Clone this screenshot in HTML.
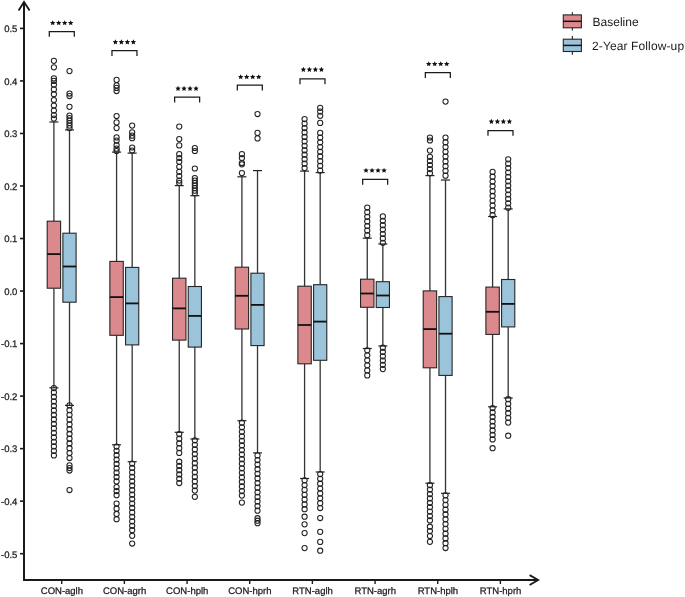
<!DOCTYPE html>
<html><head><meta charset="utf-8"><style>
html,body{margin:0;padding:0;background:#fff;width:685px;height:597px;overflow:hidden;position:relative}
svg text{font-family:"Liberation Sans",sans-serif;fill:#1a1a1a;text-rendering:geometricPrecision}
.ax{font-size:9.5px;stroke:#1a1a1a;stroke-width:0.25px}
.lg{font-size:12px}
.st{font-size:14px;font-weight:bold}
</style></head><body>
<svg width="685" height="597" viewBox="0 0 685 597" style="position:absolute;left:0;top:0;will-change:transform">
<rect width="685" height="597" fill="#ffffff"/>
<line x1="20" y1="28.4" x2="24" y2="28.4" stroke="#1a1a1a" stroke-width="1.6"/>
<text x="17.4" y="32.2" text-anchor="end" class="ax">0.5</text>
<line x1="20" y1="80.93" x2="24" y2="80.93" stroke="#1a1a1a" stroke-width="1.6"/>
<text x="17.4" y="84.73" text-anchor="end" class="ax">0.4</text>
<line x1="20" y1="133.46" x2="24" y2="133.46" stroke="#1a1a1a" stroke-width="1.6"/>
<text x="17.4" y="137.26" text-anchor="end" class="ax">0.3</text>
<line x1="20" y1="185.99" x2="24" y2="185.99" stroke="#1a1a1a" stroke-width="1.6"/>
<text x="17.4" y="189.79" text-anchor="end" class="ax">0.2</text>
<line x1="20" y1="238.52" x2="24" y2="238.52" stroke="#1a1a1a" stroke-width="1.6"/>
<text x="17.4" y="242.32" text-anchor="end" class="ax">0.1</text>
<line x1="20" y1="291.05" x2="24" y2="291.05" stroke="#1a1a1a" stroke-width="1.6"/>
<text x="17.4" y="294.85" text-anchor="end" class="ax">0.0</text>
<line x1="20" y1="343.58" x2="24" y2="343.58" stroke="#1a1a1a" stroke-width="1.6"/>
<text x="17.4" y="347.38" text-anchor="end" class="ax">-0.1</text>
<line x1="20" y1="396.11" x2="24" y2="396.11" stroke="#1a1a1a" stroke-width="1.6"/>
<text x="17.4" y="399.91" text-anchor="end" class="ax">-0.2</text>
<line x1="20" y1="448.64" x2="24" y2="448.64" stroke="#1a1a1a" stroke-width="1.6"/>
<text x="17.4" y="452.44" text-anchor="end" class="ax">-0.3</text>
<line x1="20" y1="501.17" x2="24" y2="501.17" stroke="#1a1a1a" stroke-width="1.6"/>
<text x="17.4" y="504.97" text-anchor="end" class="ax">-0.4</text>
<line x1="20" y1="553.7" x2="24" y2="553.7" stroke="#1a1a1a" stroke-width="1.6"/>
<text x="17.4" y="557.5" text-anchor="end" class="ax">-0.5</text>
<line x1="61.7" y1="580" x2="61.7" y2="584" stroke="#1a1a1a" stroke-width="1.4"/>
<text x="61.9" y="593.6" text-anchor="middle" class="ax">CON-aglh</text>
<line x1="124.37" y1="580" x2="124.37" y2="584" stroke="#1a1a1a" stroke-width="1.4"/>
<text x="124.57" y="593.6" text-anchor="middle" class="ax">CON-agrh</text>
<line x1="187.04" y1="580" x2="187.04" y2="584" stroke="#1a1a1a" stroke-width="1.4"/>
<text x="187.24" y="593.6" text-anchor="middle" class="ax">CON-hplh</text>
<line x1="249.71" y1="580" x2="249.71" y2="584" stroke="#1a1a1a" stroke-width="1.4"/>
<text x="249.91" y="593.6" text-anchor="middle" class="ax">CON-hprh</text>
<line x1="312.38" y1="580" x2="312.38" y2="584" stroke="#1a1a1a" stroke-width="1.4"/>
<text x="312.58" y="593.6" text-anchor="middle" class="ax">RTN-aglh</text>
<line x1="375.05" y1="580" x2="375.05" y2="584" stroke="#1a1a1a" stroke-width="1.4"/>
<text x="375.25" y="593.6" text-anchor="middle" class="ax">RTN-agrh</text>
<line x1="437.72" y1="580" x2="437.72" y2="584" stroke="#1a1a1a" stroke-width="1.4"/>
<text x="437.92" y="593.6" text-anchor="middle" class="ax">RTN-hplh</text>
<line x1="500.39" y1="580" x2="500.39" y2="584" stroke="#1a1a1a" stroke-width="1.4"/>
<text x="500.59" y="593.6" text-anchor="middle" class="ax">RTN-hprh</text>
<line x1="53.9" y1="122" x2="53.9" y2="221.2" stroke="#333" stroke-width="1.3"/>
<line x1="53.9" y1="288.2" x2="53.9" y2="387.8" stroke="#333" stroke-width="1.3"/>
<line x1="49.4" y1="122" x2="58.4" y2="122" stroke="#222" stroke-width="1.2"/>
<line x1="49.4" y1="387.8" x2="58.4" y2="387.8" stroke="#222" stroke-width="1.2"/>
<rect x="47.2" y="221.2" width="13.4" height="67" fill="#DC898E" stroke="#262626" stroke-width="1.1"/>
<line x1="47.2" y1="254.1" x2="60.6" y2="254.1" stroke="#111" stroke-width="1.8"/>
<circle cx="53.9" cy="60.8" r="2.6" fill="none" stroke="#222" stroke-width="1.05"/>
<circle cx="53.9" cy="67.3" r="2.6" fill="none" stroke="#222" stroke-width="1.05"/>
<circle cx="53.9" cy="78.4" r="2.6" fill="none" stroke="#222" stroke-width="1.05"/>
<circle cx="53.9" cy="80.9" r="2.6" fill="none" stroke="#222" stroke-width="1.05"/>
<circle cx="53.9" cy="84.7" r="2.6" fill="none" stroke="#222" stroke-width="1.05"/>
<circle cx="53.9" cy="89.4" r="2.6" fill="none" stroke="#222" stroke-width="1.05"/>
<circle cx="53.9" cy="94.2" r="2.6" fill="none" stroke="#222" stroke-width="1.05"/>
<circle cx="53.9" cy="100" r="2.6" fill="none" stroke="#222" stroke-width="1.05"/>
<circle cx="53.9" cy="105.5" r="2.6" fill="none" stroke="#222" stroke-width="1.05"/>
<circle cx="53.9" cy="110.6" r="2.6" fill="none" stroke="#222" stroke-width="1.05"/>
<circle cx="53.9" cy="115.1" r="2.6" fill="none" stroke="#222" stroke-width="1.05"/>
<circle cx="53.9" cy="118.6" r="2.6" fill="none" stroke="#222" stroke-width="1.05"/>
<circle cx="53.9" cy="388" r="2.6" fill="none" stroke="#222" stroke-width="1.05"/>
<circle cx="53.9" cy="392.49" r="2.6" fill="none" stroke="#222" stroke-width="1.05"/>
<circle cx="53.9" cy="396.99" r="2.6" fill="none" stroke="#222" stroke-width="1.05"/>
<circle cx="53.9" cy="401.48" r="2.6" fill="none" stroke="#222" stroke-width="1.05"/>
<circle cx="53.9" cy="405.97" r="2.6" fill="none" stroke="#222" stroke-width="1.05"/>
<circle cx="53.9" cy="410.47" r="2.6" fill="none" stroke="#222" stroke-width="1.05"/>
<circle cx="53.9" cy="414.96" r="2.6" fill="none" stroke="#222" stroke-width="1.05"/>
<circle cx="53.9" cy="419.45" r="2.6" fill="none" stroke="#222" stroke-width="1.05"/>
<circle cx="53.9" cy="423.95" r="2.6" fill="none" stroke="#222" stroke-width="1.05"/>
<circle cx="53.9" cy="428.44" r="2.6" fill="none" stroke="#222" stroke-width="1.05"/>
<circle cx="53.9" cy="432.93" r="2.6" fill="none" stroke="#222" stroke-width="1.05"/>
<circle cx="53.9" cy="437.43" r="2.6" fill="none" stroke="#222" stroke-width="1.05"/>
<circle cx="53.9" cy="441.92" r="2.6" fill="none" stroke="#222" stroke-width="1.05"/>
<circle cx="53.9" cy="446.41" r="2.6" fill="none" stroke="#222" stroke-width="1.05"/>
<circle cx="53.9" cy="450.91" r="2.6" fill="none" stroke="#222" stroke-width="1.05"/>
<circle cx="53.9" cy="455.4" r="2.6" fill="none" stroke="#222" stroke-width="1.05"/>
<line x1="69.5" y1="129.9" x2="69.5" y2="233.2" stroke="#333" stroke-width="1.3"/>
<line x1="69.5" y1="302.2" x2="69.5" y2="405.4" stroke="#333" stroke-width="1.3"/>
<line x1="65" y1="129.9" x2="74" y2="129.9" stroke="#222" stroke-width="1.2"/>
<line x1="65" y1="405.4" x2="74" y2="405.4" stroke="#222" stroke-width="1.2"/>
<rect x="62.9" y="233.2" width="13.2" height="69" fill="#9BC3DA" stroke="#262626" stroke-width="1.1"/>
<line x1="62.9" y1="266.5" x2="76.1" y2="266.5" stroke="#111" stroke-width="1.8"/>
<circle cx="69.5" cy="71.1" r="2.6" fill="none" stroke="#222" stroke-width="1.05"/>
<circle cx="69.5" cy="93.5" r="2.6" fill="none" stroke="#222" stroke-width="1.05"/>
<circle cx="69.5" cy="96" r="2.6" fill="none" stroke="#222" stroke-width="1.05"/>
<circle cx="69.5" cy="106.8" r="2.6" fill="none" stroke="#222" stroke-width="1.05"/>
<circle cx="69.5" cy="115.6" r="2.6" fill="none" stroke="#222" stroke-width="1.05"/>
<circle cx="69.5" cy="118.1" r="2.6" fill="none" stroke="#222" stroke-width="1.05"/>
<circle cx="69.5" cy="120.6" r="2.6" fill="none" stroke="#222" stroke-width="1.05"/>
<circle cx="69.5" cy="123.1" r="2.6" fill="none" stroke="#222" stroke-width="1.05"/>
<circle cx="69.5" cy="125.6" r="2.6" fill="none" stroke="#222" stroke-width="1.05"/>
<circle cx="69.5" cy="128.1" r="2.6" fill="none" stroke="#222" stroke-width="1.05"/>
<circle cx="69.5" cy="405.4" r="2.6" fill="none" stroke="#222" stroke-width="1.05"/>
<circle cx="69.5" cy="410.16" r="2.6" fill="none" stroke="#222" stroke-width="1.05"/>
<circle cx="69.5" cy="414.92" r="2.6" fill="none" stroke="#222" stroke-width="1.05"/>
<circle cx="69.5" cy="419.68" r="2.6" fill="none" stroke="#222" stroke-width="1.05"/>
<circle cx="69.5" cy="424.44" r="2.6" fill="none" stroke="#222" stroke-width="1.05"/>
<circle cx="69.5" cy="429.2" r="2.6" fill="none" stroke="#222" stroke-width="1.05"/>
<circle cx="69.5" cy="433.96" r="2.6" fill="none" stroke="#222" stroke-width="1.05"/>
<circle cx="69.5" cy="438.72" r="2.6" fill="none" stroke="#222" stroke-width="1.05"/>
<circle cx="69.5" cy="443.48" r="2.6" fill="none" stroke="#222" stroke-width="1.05"/>
<circle cx="69.5" cy="448.24" r="2.6" fill="none" stroke="#222" stroke-width="1.05"/>
<circle cx="69.5" cy="453" r="2.6" fill="none" stroke="#222" stroke-width="1.05"/>
<circle cx="69.5" cy="458" r="2.6" fill="none" stroke="#222" stroke-width="1.05"/>
<circle cx="69.5" cy="465.4" r="2.6" fill="none" stroke="#222" stroke-width="1.05"/>
<circle cx="69.5" cy="468" r="2.6" fill="none" stroke="#222" stroke-width="1.05"/>
<circle cx="69.5" cy="470.5" r="2.6" fill="none" stroke="#222" stroke-width="1.05"/>
<circle cx="69.5" cy="490" r="2.6" fill="none" stroke="#222" stroke-width="1.05"/>
<path d="M49.3 36.8V31.5H74.3V36.8" fill="none" stroke="#1a1a1a" stroke-width="1.25"/>
<polygon points="52.70,20.15 53.49,21.91 55.41,22.12 53.98,23.42 54.38,25.31 52.70,24.35 51.02,25.31 51.42,23.42 49.99,22.12 51.91,21.91" fill="#111"/>
<polygon points="58.70,20.15 59.49,21.91 61.41,22.12 59.98,23.42 60.38,25.31 58.70,24.35 57.02,25.31 57.42,23.42 55.99,22.12 57.91,21.91" fill="#111"/>
<polygon points="64.70,20.15 65.49,21.91 67.41,22.12 65.98,23.42 66.38,25.31 64.70,24.35 63.02,25.31 63.42,23.42 61.99,22.12 63.91,21.91" fill="#111"/>
<polygon points="70.70,20.15 71.49,21.91 73.41,22.12 71.98,23.42 72.38,25.31 70.70,24.35 69.02,25.31 69.42,23.42 67.99,22.12 69.91,21.91" fill="#111"/>
<line x1="116.57" y1="152.1" x2="116.57" y2="261.4" stroke="#333" stroke-width="1.3"/>
<line x1="116.57" y1="335.3" x2="116.57" y2="444.8" stroke="#333" stroke-width="1.3"/>
<line x1="112.07" y1="152.1" x2="121.07" y2="152.1" stroke="#222" stroke-width="1.2"/>
<line x1="112.07" y1="444.8" x2="121.07" y2="444.8" stroke="#222" stroke-width="1.2"/>
<rect x="109.87" y="261.4" width="13.4" height="73.9" fill="#DC898E" stroke="#262626" stroke-width="1.1"/>
<line x1="109.87" y1="297.1" x2="123.27" y2="297.1" stroke="#111" stroke-width="1.8"/>
<circle cx="116.57" cy="79.9" r="2.6" fill="none" stroke="#222" stroke-width="1.05"/>
<circle cx="116.57" cy="85.4" r="2.6" fill="none" stroke="#222" stroke-width="1.05"/>
<circle cx="116.57" cy="87.9" r="2.6" fill="none" stroke="#222" stroke-width="1.05"/>
<circle cx="116.57" cy="91" r="2.6" fill="none" stroke="#222" stroke-width="1.05"/>
<circle cx="116.57" cy="116" r="2.6" fill="none" stroke="#222" stroke-width="1.05"/>
<circle cx="116.57" cy="122.4" r="2.6" fill="none" stroke="#222" stroke-width="1.05"/>
<circle cx="116.57" cy="128.1" r="2.6" fill="none" stroke="#222" stroke-width="1.05"/>
<circle cx="116.57" cy="137.4" r="2.6" fill="none" stroke="#222" stroke-width="1.05"/>
<circle cx="116.57" cy="140.7" r="2.6" fill="none" stroke="#222" stroke-width="1.05"/>
<circle cx="116.57" cy="145.2" r="2.6" fill="none" stroke="#222" stroke-width="1.05"/>
<circle cx="116.57" cy="148.7" r="2.6" fill="none" stroke="#222" stroke-width="1.05"/>
<circle cx="116.57" cy="151" r="2.6" fill="none" stroke="#222" stroke-width="1.05"/>
<circle cx="116.57" cy="446.5" r="2.6" fill="none" stroke="#222" stroke-width="1.05"/>
<circle cx="116.57" cy="450.86" r="2.6" fill="none" stroke="#222" stroke-width="1.05"/>
<circle cx="116.57" cy="455.23" r="2.6" fill="none" stroke="#222" stroke-width="1.05"/>
<circle cx="116.57" cy="459.59" r="2.6" fill="none" stroke="#222" stroke-width="1.05"/>
<circle cx="116.57" cy="463.95" r="2.6" fill="none" stroke="#222" stroke-width="1.05"/>
<circle cx="116.57" cy="468.31" r="2.6" fill="none" stroke="#222" stroke-width="1.05"/>
<circle cx="116.57" cy="472.67" r="2.6" fill="none" stroke="#222" stroke-width="1.05"/>
<circle cx="116.57" cy="477.04" r="2.6" fill="none" stroke="#222" stroke-width="1.05"/>
<circle cx="116.57" cy="481.4" r="2.6" fill="none" stroke="#222" stroke-width="1.05"/>
<circle cx="116.57" cy="487" r="2.6" fill="none" stroke="#222" stroke-width="1.05"/>
<circle cx="116.57" cy="491" r="2.6" fill="none" stroke="#222" stroke-width="1.05"/>
<circle cx="116.57" cy="495.2" r="2.6" fill="none" stroke="#222" stroke-width="1.05"/>
<circle cx="116.57" cy="503.5" r="2.6" fill="none" stroke="#222" stroke-width="1.05"/>
<circle cx="116.57" cy="508.73" r="2.6" fill="none" stroke="#222" stroke-width="1.05"/>
<circle cx="116.57" cy="513.97" r="2.6" fill="none" stroke="#222" stroke-width="1.05"/>
<circle cx="116.57" cy="519.2" r="2.6" fill="none" stroke="#222" stroke-width="1.05"/>
<line x1="132.17" y1="153.1" x2="132.17" y2="267.4" stroke="#333" stroke-width="1.3"/>
<line x1="132.17" y1="344.9" x2="132.17" y2="461.7" stroke="#333" stroke-width="1.3"/>
<line x1="127.67" y1="153.1" x2="136.67" y2="153.1" stroke="#222" stroke-width="1.2"/>
<line x1="127.67" y1="461.7" x2="136.67" y2="461.7" stroke="#222" stroke-width="1.2"/>
<rect x="125.57" y="267.4" width="13.2" height="77.5" fill="#9BC3DA" stroke="#262626" stroke-width="1.1"/>
<line x1="125.57" y1="303.4" x2="138.77" y2="303.4" stroke="#111" stroke-width="1.8"/>
<circle cx="132.17" cy="125.6" r="2.6" fill="none" stroke="#222" stroke-width="1.05"/>
<circle cx="132.17" cy="132.4" r="2.6" fill="none" stroke="#222" stroke-width="1.05"/>
<circle cx="132.17" cy="135.7" r="2.6" fill="none" stroke="#222" stroke-width="1.05"/>
<circle cx="132.17" cy="138.2" r="2.6" fill="none" stroke="#222" stroke-width="1.05"/>
<circle cx="132.17" cy="147.5" r="2.6" fill="none" stroke="#222" stroke-width="1.05"/>
<circle cx="132.17" cy="150.5" r="2.6" fill="none" stroke="#222" stroke-width="1.05"/>
<circle cx="132.17" cy="463.5" r="2.6" fill="none" stroke="#222" stroke-width="1.05"/>
<circle cx="132.17" cy="467.95" r="2.6" fill="none" stroke="#222" stroke-width="1.05"/>
<circle cx="132.17" cy="472.39" r="2.6" fill="none" stroke="#222" stroke-width="1.05"/>
<circle cx="132.17" cy="476.84" r="2.6" fill="none" stroke="#222" stroke-width="1.05"/>
<circle cx="132.17" cy="481.29" r="2.6" fill="none" stroke="#222" stroke-width="1.05"/>
<circle cx="132.17" cy="485.73" r="2.6" fill="none" stroke="#222" stroke-width="1.05"/>
<circle cx="132.17" cy="490.18" r="2.6" fill="none" stroke="#222" stroke-width="1.05"/>
<circle cx="132.17" cy="494.63" r="2.6" fill="none" stroke="#222" stroke-width="1.05"/>
<circle cx="132.17" cy="499.07" r="2.6" fill="none" stroke="#222" stroke-width="1.05"/>
<circle cx="132.17" cy="503.52" r="2.6" fill="none" stroke="#222" stroke-width="1.05"/>
<circle cx="132.17" cy="507.97" r="2.6" fill="none" stroke="#222" stroke-width="1.05"/>
<circle cx="132.17" cy="512.41" r="2.6" fill="none" stroke="#222" stroke-width="1.05"/>
<circle cx="132.17" cy="516.86" r="2.6" fill="none" stroke="#222" stroke-width="1.05"/>
<circle cx="132.17" cy="521.31" r="2.6" fill="none" stroke="#222" stroke-width="1.05"/>
<circle cx="132.17" cy="525.75" r="2.6" fill="none" stroke="#222" stroke-width="1.05"/>
<circle cx="132.17" cy="530.2" r="2.6" fill="none" stroke="#222" stroke-width="1.05"/>
<circle cx="132.17" cy="535.8" r="2.6" fill="none" stroke="#222" stroke-width="1.05"/>
<circle cx="132.17" cy="543.5" r="2.6" fill="none" stroke="#222" stroke-width="1.05"/>
<path d="M111.97 55.9V50.6H136.97V55.9" fill="none" stroke="#1a1a1a" stroke-width="1.25"/>
<polygon points="115.37,39.35 116.16,41.11 118.08,41.32 116.65,42.62 117.05,44.51 115.37,43.55 113.69,44.51 114.09,42.62 112.66,41.32 114.58,41.11" fill="#111"/>
<polygon points="121.37,39.35 122.16,41.11 124.08,41.32 122.65,42.62 123.05,44.51 121.37,43.55 119.69,44.51 120.09,42.62 118.66,41.32 120.58,41.11" fill="#111"/>
<polygon points="127.37,39.35 128.16,41.11 130.08,41.32 128.65,42.62 129.05,44.51 127.37,43.55 125.69,44.51 126.09,42.62 124.66,41.32 126.58,41.11" fill="#111"/>
<polygon points="133.37,39.35 134.16,41.11 136.08,41.32 134.65,42.62 135.05,44.51 133.37,43.55 131.69,44.51 132.09,42.62 130.66,41.32 132.58,41.11" fill="#111"/>
<line x1="179.24" y1="185.6" x2="179.24" y2="278.2" stroke="#333" stroke-width="1.3"/>
<line x1="179.24" y1="340.1" x2="179.24" y2="432.3" stroke="#333" stroke-width="1.3"/>
<line x1="174.74" y1="185.6" x2="183.74" y2="185.6" stroke="#222" stroke-width="1.2"/>
<line x1="174.74" y1="432.3" x2="183.74" y2="432.3" stroke="#222" stroke-width="1.2"/>
<rect x="172.54" y="278.2" width="13.4" height="61.9" fill="#DC898E" stroke="#262626" stroke-width="1.1"/>
<line x1="172.54" y1="308.4" x2="185.94" y2="308.4" stroke="#111" stroke-width="1.8"/>
<circle cx="179.24" cy="126.6" r="2.6" fill="none" stroke="#222" stroke-width="1.05"/>
<circle cx="179.24" cy="139.1" r="2.6" fill="none" stroke="#222" stroke-width="1.05"/>
<circle cx="179.24" cy="145.4" r="2.6" fill="none" stroke="#222" stroke-width="1.05"/>
<circle cx="179.24" cy="154.2" r="2.6" fill="none" stroke="#222" stroke-width="1.05"/>
<circle cx="179.24" cy="158" r="2.6" fill="none" stroke="#222" stroke-width="1.05"/>
<circle cx="179.24" cy="161.8" r="2.6" fill="none" stroke="#222" stroke-width="1.05"/>
<circle cx="179.24" cy="166.8" r="2.6" fill="none" stroke="#222" stroke-width="1.05"/>
<circle cx="179.24" cy="171.8" r="2.6" fill="none" stroke="#222" stroke-width="1.05"/>
<circle cx="179.24" cy="176.1" r="2.6" fill="none" stroke="#222" stroke-width="1.05"/>
<circle cx="179.24" cy="180.6" r="2.6" fill="none" stroke="#222" stroke-width="1.05"/>
<circle cx="179.24" cy="183" r="2.6" fill="none" stroke="#222" stroke-width="1.05"/>
<circle cx="179.24" cy="434" r="2.6" fill="none" stroke="#222" stroke-width="1.05"/>
<circle cx="179.24" cy="438.73" r="2.6" fill="none" stroke="#222" stroke-width="1.05"/>
<circle cx="179.24" cy="443.45" r="2.6" fill="none" stroke="#222" stroke-width="1.05"/>
<circle cx="179.24" cy="448.17" r="2.6" fill="none" stroke="#222" stroke-width="1.05"/>
<circle cx="179.24" cy="452.9" r="2.6" fill="none" stroke="#222" stroke-width="1.05"/>
<circle cx="179.24" cy="461.7" r="2.6" fill="none" stroke="#222" stroke-width="1.05"/>
<circle cx="179.24" cy="465.96" r="2.6" fill="none" stroke="#222" stroke-width="1.05"/>
<circle cx="179.24" cy="470.22" r="2.6" fill="none" stroke="#222" stroke-width="1.05"/>
<circle cx="179.24" cy="474.48" r="2.6" fill="none" stroke="#222" stroke-width="1.05"/>
<circle cx="179.24" cy="478.74" r="2.6" fill="none" stroke="#222" stroke-width="1.05"/>
<circle cx="179.24" cy="483" r="2.6" fill="none" stroke="#222" stroke-width="1.05"/>
<line x1="194.84" y1="195.7" x2="194.84" y2="286.5" stroke="#333" stroke-width="1.3"/>
<line x1="194.84" y1="347.1" x2="194.84" y2="439" stroke="#333" stroke-width="1.3"/>
<line x1="190.34" y1="195.7" x2="199.34" y2="195.7" stroke="#222" stroke-width="1.2"/>
<line x1="190.34" y1="439" x2="199.34" y2="439" stroke="#222" stroke-width="1.2"/>
<rect x="188.24" y="286.5" width="13.2" height="60.6" fill="#9BC3DA" stroke="#262626" stroke-width="1.1"/>
<line x1="188.24" y1="315.9" x2="201.44" y2="315.9" stroke="#111" stroke-width="1.8"/>
<circle cx="194.84" cy="148" r="2.6" fill="none" stroke="#222" stroke-width="1.05"/>
<circle cx="194.84" cy="151" r="2.6" fill="none" stroke="#222" stroke-width="1.05"/>
<circle cx="194.84" cy="168.5" r="2.6" fill="none" stroke="#222" stroke-width="1.05"/>
<circle cx="194.84" cy="178" r="2.6" fill="none" stroke="#222" stroke-width="1.05"/>
<circle cx="194.84" cy="180.6" r="2.6" fill="none" stroke="#222" stroke-width="1.05"/>
<circle cx="194.84" cy="183.1" r="2.6" fill="none" stroke="#222" stroke-width="1.05"/>
<circle cx="194.84" cy="185.6" r="2.6" fill="none" stroke="#222" stroke-width="1.05"/>
<circle cx="194.84" cy="188.1" r="2.6" fill="none" stroke="#222" stroke-width="1.05"/>
<circle cx="194.84" cy="190.7" r="2.6" fill="none" stroke="#222" stroke-width="1.05"/>
<circle cx="194.84" cy="193.2" r="2.6" fill="none" stroke="#222" stroke-width="1.05"/>
<circle cx="194.84" cy="440.3" r="2.6" fill="none" stroke="#222" stroke-width="1.05"/>
<circle cx="194.84" cy="444.87" r="2.6" fill="none" stroke="#222" stroke-width="1.05"/>
<circle cx="194.84" cy="449.45" r="2.6" fill="none" stroke="#222" stroke-width="1.05"/>
<circle cx="194.84" cy="454.02" r="2.6" fill="none" stroke="#222" stroke-width="1.05"/>
<circle cx="194.84" cy="458.59" r="2.6" fill="none" stroke="#222" stroke-width="1.05"/>
<circle cx="194.84" cy="463.16" r="2.6" fill="none" stroke="#222" stroke-width="1.05"/>
<circle cx="194.84" cy="467.74" r="2.6" fill="none" stroke="#222" stroke-width="1.05"/>
<circle cx="194.84" cy="472.31" r="2.6" fill="none" stroke="#222" stroke-width="1.05"/>
<circle cx="194.84" cy="476.88" r="2.6" fill="none" stroke="#222" stroke-width="1.05"/>
<circle cx="194.84" cy="481.45" r="2.6" fill="none" stroke="#222" stroke-width="1.05"/>
<circle cx="194.84" cy="486.03" r="2.6" fill="none" stroke="#222" stroke-width="1.05"/>
<circle cx="194.84" cy="490.6" r="2.6" fill="none" stroke="#222" stroke-width="1.05"/>
<circle cx="194.84" cy="496.8" r="2.6" fill="none" stroke="#222" stroke-width="1.05"/>
<path d="M174.64 102.5V97.2H199.64V102.5" fill="none" stroke="#1a1a1a" stroke-width="1.25"/>
<polygon points="178.04,85.75 178.83,87.51 180.75,87.72 179.32,89.02 179.72,90.91 178.04,89.95 176.36,90.91 176.76,89.02 175.33,87.72 177.25,87.51" fill="#111"/>
<polygon points="184.04,85.75 184.83,87.51 186.75,87.72 185.32,89.02 185.72,90.91 184.04,89.95 182.36,90.91 182.76,89.02 181.33,87.72 183.25,87.51" fill="#111"/>
<polygon points="190.04,85.75 190.83,87.51 192.75,87.72 191.32,89.02 191.72,90.91 190.04,89.95 188.36,90.91 188.76,89.02 187.33,87.72 189.25,87.51" fill="#111"/>
<polygon points="196.04,85.75 196.83,87.51 198.75,87.72 197.32,89.02 197.72,90.91 196.04,89.95 194.36,90.91 194.76,89.02 193.33,87.72 195.25,87.51" fill="#111"/>
<line x1="241.91" y1="176.8" x2="241.91" y2="267.2" stroke="#333" stroke-width="1.3"/>
<line x1="241.91" y1="329" x2="241.91" y2="420.7" stroke="#333" stroke-width="1.3"/>
<line x1="237.41" y1="176.8" x2="246.41" y2="176.8" stroke="#222" stroke-width="1.2"/>
<line x1="237.41" y1="420.7" x2="246.41" y2="420.7" stroke="#222" stroke-width="1.2"/>
<rect x="235.21" y="267.2" width="13.4" height="61.8" fill="#DC898E" stroke="#262626" stroke-width="1.1"/>
<line x1="235.21" y1="295.8" x2="248.61" y2="295.8" stroke="#111" stroke-width="1.8"/>
<circle cx="241.91" cy="154.2" r="2.6" fill="none" stroke="#222" stroke-width="1.05"/>
<circle cx="241.91" cy="158" r="2.6" fill="none" stroke="#222" stroke-width="1.05"/>
<circle cx="241.91" cy="163" r="2.6" fill="none" stroke="#222" stroke-width="1.05"/>
<circle cx="241.91" cy="164.3" r="2.6" fill="none" stroke="#222" stroke-width="1.05"/>
<circle cx="241.91" cy="173.1" r="2.6" fill="none" stroke="#222" stroke-width="1.05"/>
<circle cx="241.91" cy="422.7" r="2.6" fill="none" stroke="#222" stroke-width="1.05"/>
<circle cx="241.91" cy="427.26" r="2.6" fill="none" stroke="#222" stroke-width="1.05"/>
<circle cx="241.91" cy="431.81" r="2.6" fill="none" stroke="#222" stroke-width="1.05"/>
<circle cx="241.91" cy="436.37" r="2.6" fill="none" stroke="#222" stroke-width="1.05"/>
<circle cx="241.91" cy="440.93" r="2.6" fill="none" stroke="#222" stroke-width="1.05"/>
<circle cx="241.91" cy="445.48" r="2.6" fill="none" stroke="#222" stroke-width="1.05"/>
<circle cx="241.91" cy="450.04" r="2.6" fill="none" stroke="#222" stroke-width="1.05"/>
<circle cx="241.91" cy="454.59" r="2.6" fill="none" stroke="#222" stroke-width="1.05"/>
<circle cx="241.91" cy="459.15" r="2.6" fill="none" stroke="#222" stroke-width="1.05"/>
<circle cx="241.91" cy="463.71" r="2.6" fill="none" stroke="#222" stroke-width="1.05"/>
<circle cx="241.91" cy="468.26" r="2.6" fill="none" stroke="#222" stroke-width="1.05"/>
<circle cx="241.91" cy="472.82" r="2.6" fill="none" stroke="#222" stroke-width="1.05"/>
<circle cx="241.91" cy="477.38" r="2.6" fill="none" stroke="#222" stroke-width="1.05"/>
<circle cx="241.91" cy="481.93" r="2.6" fill="none" stroke="#222" stroke-width="1.05"/>
<circle cx="241.91" cy="486.49" r="2.6" fill="none" stroke="#222" stroke-width="1.05"/>
<circle cx="241.91" cy="491.04" r="2.6" fill="none" stroke="#222" stroke-width="1.05"/>
<circle cx="241.91" cy="495.6" r="2.6" fill="none" stroke="#222" stroke-width="1.05"/>
<circle cx="241.91" cy="502.6" r="2.6" fill="none" stroke="#222" stroke-width="1.05"/>
<line x1="257.51" y1="170.6" x2="257.51" y2="273.2" stroke="#333" stroke-width="1.3"/>
<line x1="257.51" y1="345.6" x2="257.51" y2="452.9" stroke="#333" stroke-width="1.3"/>
<line x1="253.01" y1="170.6" x2="262.01" y2="170.6" stroke="#222" stroke-width="1.2"/>
<line x1="253.01" y1="452.9" x2="262.01" y2="452.9" stroke="#222" stroke-width="1.2"/>
<rect x="250.91" y="273.2" width="13.2" height="72.4" fill="#9BC3DA" stroke="#262626" stroke-width="1.1"/>
<line x1="250.91" y1="304.9" x2="264.11" y2="304.9" stroke="#111" stroke-width="1.8"/>
<circle cx="257.51" cy="114" r="2.6" fill="none" stroke="#222" stroke-width="1.05"/>
<circle cx="257.51" cy="132.9" r="2.6" fill="none" stroke="#222" stroke-width="1.05"/>
<circle cx="257.51" cy="138.4" r="2.6" fill="none" stroke="#222" stroke-width="1.05"/>
<circle cx="257.51" cy="455.4" r="2.6" fill="none" stroke="#222" stroke-width="1.05"/>
<circle cx="257.51" cy="460.01" r="2.6" fill="none" stroke="#222" stroke-width="1.05"/>
<circle cx="257.51" cy="464.62" r="2.6" fill="none" stroke="#222" stroke-width="1.05"/>
<circle cx="257.51" cy="469.22" r="2.6" fill="none" stroke="#222" stroke-width="1.05"/>
<circle cx="257.51" cy="473.83" r="2.6" fill="none" stroke="#222" stroke-width="1.05"/>
<circle cx="257.51" cy="478.44" r="2.6" fill="none" stroke="#222" stroke-width="1.05"/>
<circle cx="257.51" cy="483.05" r="2.6" fill="none" stroke="#222" stroke-width="1.05"/>
<circle cx="257.51" cy="487.66" r="2.6" fill="none" stroke="#222" stroke-width="1.05"/>
<circle cx="257.51" cy="492.27" r="2.6" fill="none" stroke="#222" stroke-width="1.05"/>
<circle cx="257.51" cy="496.88" r="2.6" fill="none" stroke="#222" stroke-width="1.05"/>
<circle cx="257.51" cy="501.48" r="2.6" fill="none" stroke="#222" stroke-width="1.05"/>
<circle cx="257.51" cy="506.09" r="2.6" fill="none" stroke="#222" stroke-width="1.05"/>
<circle cx="257.51" cy="510.7" r="2.6" fill="none" stroke="#222" stroke-width="1.05"/>
<circle cx="257.51" cy="518.2" r="2.6" fill="none" stroke="#222" stroke-width="1.05"/>
<circle cx="257.51" cy="520.7" r="2.6" fill="none" stroke="#222" stroke-width="1.05"/>
<circle cx="257.51" cy="523.2" r="2.6" fill="none" stroke="#222" stroke-width="1.05"/>
<path d="M237.31 90.5V85.2H262.31V90.5" fill="none" stroke="#1a1a1a" stroke-width="1.25"/>
<polygon points="240.71,74.15 241.50,75.91 243.42,76.12 241.99,77.42 242.39,79.31 240.71,78.35 239.03,79.31 239.43,77.42 238.00,76.12 239.92,75.91" fill="#111"/>
<polygon points="246.71,74.15 247.50,75.91 249.42,76.12 247.99,77.42 248.39,79.31 246.71,78.35 245.03,79.31 245.43,77.42 244.00,76.12 245.92,75.91" fill="#111"/>
<polygon points="252.71,74.15 253.50,75.91 255.42,76.12 253.99,77.42 254.39,79.31 252.71,78.35 251.03,79.31 251.43,77.42 250.00,76.12 251.92,75.91" fill="#111"/>
<polygon points="258.71,74.15 259.50,75.91 261.42,76.12 259.99,77.42 260.39,79.31 258.71,78.35 257.03,79.31 257.43,77.42 256.00,76.12 257.92,75.91" fill="#111"/>
<line x1="304.58" y1="171.1" x2="304.58" y2="286.2" stroke="#333" stroke-width="1.3"/>
<line x1="304.58" y1="363.8" x2="304.58" y2="478.5" stroke="#333" stroke-width="1.3"/>
<line x1="300.08" y1="171.1" x2="309.08" y2="171.1" stroke="#222" stroke-width="1.2"/>
<line x1="300.08" y1="478.5" x2="309.08" y2="478.5" stroke="#222" stroke-width="1.2"/>
<rect x="297.88" y="286.2" width="13.4" height="77.6" fill="#DC898E" stroke="#262626" stroke-width="1.1"/>
<line x1="297.88" y1="325" x2="311.28" y2="325" stroke="#111" stroke-width="1.8"/>
<circle cx="304.58" cy="119.1" r="2.6" fill="none" stroke="#222" stroke-width="1.05"/>
<circle cx="304.58" cy="123.55" r="2.6" fill="none" stroke="#222" stroke-width="1.05"/>
<circle cx="304.58" cy="128.01" r="2.6" fill="none" stroke="#222" stroke-width="1.05"/>
<circle cx="304.58" cy="132.46" r="2.6" fill="none" stroke="#222" stroke-width="1.05"/>
<circle cx="304.58" cy="136.92" r="2.6" fill="none" stroke="#222" stroke-width="1.05"/>
<circle cx="304.58" cy="141.37" r="2.6" fill="none" stroke="#222" stroke-width="1.05"/>
<circle cx="304.58" cy="145.83" r="2.6" fill="none" stroke="#222" stroke-width="1.05"/>
<circle cx="304.58" cy="150.28" r="2.6" fill="none" stroke="#222" stroke-width="1.05"/>
<circle cx="304.58" cy="154.74" r="2.6" fill="none" stroke="#222" stroke-width="1.05"/>
<circle cx="304.58" cy="159.19" r="2.6" fill="none" stroke="#222" stroke-width="1.05"/>
<circle cx="304.58" cy="163.65" r="2.6" fill="none" stroke="#222" stroke-width="1.05"/>
<circle cx="304.58" cy="168.1" r="2.6" fill="none" stroke="#222" stroke-width="1.05"/>
<circle cx="304.58" cy="480.3" r="2.6" fill="none" stroke="#222" stroke-width="1.05"/>
<circle cx="304.58" cy="485.12" r="2.6" fill="none" stroke="#222" stroke-width="1.05"/>
<circle cx="304.58" cy="489.93" r="2.6" fill="none" stroke="#222" stroke-width="1.05"/>
<circle cx="304.58" cy="494.75" r="2.6" fill="none" stroke="#222" stroke-width="1.05"/>
<circle cx="304.58" cy="499.57" r="2.6" fill="none" stroke="#222" stroke-width="1.05"/>
<circle cx="304.58" cy="504.38" r="2.6" fill="none" stroke="#222" stroke-width="1.05"/>
<circle cx="304.58" cy="509.2" r="2.6" fill="none" stroke="#222" stroke-width="1.05"/>
<circle cx="304.58" cy="516.7" r="2.6" fill="none" stroke="#222" stroke-width="1.05"/>
<circle cx="304.58" cy="524.3" r="2.6" fill="none" stroke="#222" stroke-width="1.05"/>
<circle cx="304.58" cy="533.1" r="2.6" fill="none" stroke="#222" stroke-width="1.05"/>
<circle cx="304.58" cy="548.1" r="2.6" fill="none" stroke="#222" stroke-width="1.05"/>
<line x1="320.18" y1="172.6" x2="320.18" y2="284.7" stroke="#333" stroke-width="1.3"/>
<line x1="320.18" y1="360.3" x2="320.18" y2="472" stroke="#333" stroke-width="1.3"/>
<line x1="315.68" y1="172.6" x2="324.68" y2="172.6" stroke="#222" stroke-width="1.2"/>
<line x1="315.68" y1="472" x2="324.68" y2="472" stroke="#222" stroke-width="1.2"/>
<rect x="313.58" y="284.7" width="13.2" height="75.6" fill="#9BC3DA" stroke="#262626" stroke-width="1.1"/>
<line x1="313.58" y1="321.6" x2="326.78" y2="321.6" stroke="#111" stroke-width="1.8"/>
<circle cx="320.18" cy="107.8" r="2.6" fill="none" stroke="#222" stroke-width="1.05"/>
<circle cx="320.18" cy="111.6" r="2.6" fill="none" stroke="#222" stroke-width="1.05"/>
<circle cx="320.18" cy="115.8" r="2.6" fill="none" stroke="#222" stroke-width="1.05"/>
<circle cx="320.18" cy="122.9" r="2.6" fill="none" stroke="#222" stroke-width="1.05"/>
<circle cx="320.18" cy="132.9" r="2.6" fill="none" stroke="#222" stroke-width="1.05"/>
<circle cx="320.18" cy="137.61" r="2.6" fill="none" stroke="#222" stroke-width="1.05"/>
<circle cx="320.18" cy="142.32" r="2.6" fill="none" stroke="#222" stroke-width="1.05"/>
<circle cx="320.18" cy="147.04" r="2.6" fill="none" stroke="#222" stroke-width="1.05"/>
<circle cx="320.18" cy="151.75" r="2.6" fill="none" stroke="#222" stroke-width="1.05"/>
<circle cx="320.18" cy="156.46" r="2.6" fill="none" stroke="#222" stroke-width="1.05"/>
<circle cx="320.18" cy="161.18" r="2.6" fill="none" stroke="#222" stroke-width="1.05"/>
<circle cx="320.18" cy="165.89" r="2.6" fill="none" stroke="#222" stroke-width="1.05"/>
<circle cx="320.18" cy="170.6" r="2.6" fill="none" stroke="#222" stroke-width="1.05"/>
<circle cx="320.18" cy="474" r="2.6" fill="none" stroke="#222" stroke-width="1.05"/>
<circle cx="320.18" cy="478.86" r="2.6" fill="none" stroke="#222" stroke-width="1.05"/>
<circle cx="320.18" cy="483.71" r="2.6" fill="none" stroke="#222" stroke-width="1.05"/>
<circle cx="320.18" cy="488.57" r="2.6" fill="none" stroke="#222" stroke-width="1.05"/>
<circle cx="320.18" cy="493.43" r="2.6" fill="none" stroke="#222" stroke-width="1.05"/>
<circle cx="320.18" cy="498.29" r="2.6" fill="none" stroke="#222" stroke-width="1.05"/>
<circle cx="320.18" cy="503.14" r="2.6" fill="none" stroke="#222" stroke-width="1.05"/>
<circle cx="320.18" cy="508" r="2.6" fill="none" stroke="#222" stroke-width="1.05"/>
<circle cx="320.18" cy="518" r="2.6" fill="none" stroke="#222" stroke-width="1.05"/>
<circle cx="320.18" cy="531.8" r="2.6" fill="none" stroke="#222" stroke-width="1.05"/>
<circle cx="320.18" cy="541.9" r="2.6" fill="none" stroke="#222" stroke-width="1.05"/>
<circle cx="320.18" cy="550.7" r="2.6" fill="none" stroke="#222" stroke-width="1.05"/>
<path d="M299.98 84.2V78.9H324.98V84.2" fill="none" stroke="#1a1a1a" stroke-width="1.25"/>
<polygon points="303.38,66.75 304.17,68.51 306.09,68.72 304.66,70.02 305.06,71.91 303.38,70.95 301.70,71.91 302.10,70.02 300.67,68.72 302.59,68.51" fill="#111"/>
<polygon points="309.38,66.75 310.17,68.51 312.09,68.72 310.66,70.02 311.06,71.91 309.38,70.95 307.70,71.91 308.10,70.02 306.67,68.72 308.59,68.51" fill="#111"/>
<polygon points="315.38,66.75 316.17,68.51 318.09,68.72 316.66,70.02 317.06,71.91 315.38,70.95 313.70,71.91 314.10,70.02 312.67,68.72 314.59,68.51" fill="#111"/>
<polygon points="321.38,66.75 322.17,68.51 324.09,68.72 322.66,70.02 323.06,71.91 321.38,70.95 319.70,71.91 320.10,70.02 318.67,68.72 320.59,68.51" fill="#111"/>
<line x1="367.25" y1="238.2" x2="367.25" y2="279.2" stroke="#333" stroke-width="1.3"/>
<line x1="367.25" y1="307.3" x2="367.25" y2="348.5" stroke="#333" stroke-width="1.3"/>
<line x1="362.75" y1="238.2" x2="371.75" y2="238.2" stroke="#222" stroke-width="1.2"/>
<line x1="362.75" y1="348.5" x2="371.75" y2="348.5" stroke="#222" stroke-width="1.2"/>
<rect x="360.55" y="279.2" width="13.4" height="28.1" fill="#DC898E" stroke="#262626" stroke-width="1.1"/>
<line x1="360.55" y1="293.5" x2="373.95" y2="293.5" stroke="#111" stroke-width="1.8"/>
<circle cx="367.25" cy="207.6" r="2.6" fill="none" stroke="#222" stroke-width="1.05"/>
<circle cx="367.25" cy="212.2" r="2.6" fill="none" stroke="#222" stroke-width="1.05"/>
<circle cx="367.25" cy="216.8" r="2.6" fill="none" stroke="#222" stroke-width="1.05"/>
<circle cx="367.25" cy="221.4" r="2.6" fill="none" stroke="#222" stroke-width="1.05"/>
<circle cx="367.25" cy="226" r="2.6" fill="none" stroke="#222" stroke-width="1.05"/>
<circle cx="367.25" cy="230.6" r="2.6" fill="none" stroke="#222" stroke-width="1.05"/>
<circle cx="367.25" cy="235.2" r="2.6" fill="none" stroke="#222" stroke-width="1.05"/>
<circle cx="367.25" cy="350.3" r="2.6" fill="none" stroke="#222" stroke-width="1.05"/>
<circle cx="367.25" cy="355.32" r="2.6" fill="none" stroke="#222" stroke-width="1.05"/>
<circle cx="367.25" cy="360.34" r="2.6" fill="none" stroke="#222" stroke-width="1.05"/>
<circle cx="367.25" cy="365.36" r="2.6" fill="none" stroke="#222" stroke-width="1.05"/>
<circle cx="367.25" cy="370.38" r="2.6" fill="none" stroke="#222" stroke-width="1.05"/>
<circle cx="367.25" cy="375.4" r="2.6" fill="none" stroke="#222" stroke-width="1.05"/>
<line x1="382.85" y1="244" x2="382.85" y2="281.7" stroke="#333" stroke-width="1.3"/>
<line x1="382.85" y1="307.5" x2="382.85" y2="346" stroke="#333" stroke-width="1.3"/>
<line x1="378.35" y1="244" x2="387.35" y2="244" stroke="#222" stroke-width="1.2"/>
<line x1="378.35" y1="346" x2="387.35" y2="346" stroke="#222" stroke-width="1.2"/>
<rect x="376.25" y="281.7" width="13.2" height="25.8" fill="#9BC3DA" stroke="#262626" stroke-width="1.1"/>
<line x1="376.25" y1="295.5" x2="389.45" y2="295.5" stroke="#111" stroke-width="1.8"/>
<circle cx="382.85" cy="216.4" r="2.6" fill="none" stroke="#222" stroke-width="1.05"/>
<circle cx="382.85" cy="220.8" r="2.6" fill="none" stroke="#222" stroke-width="1.05"/>
<circle cx="382.85" cy="225.2" r="2.6" fill="none" stroke="#222" stroke-width="1.05"/>
<circle cx="382.85" cy="229.6" r="2.6" fill="none" stroke="#222" stroke-width="1.05"/>
<circle cx="382.85" cy="234" r="2.6" fill="none" stroke="#222" stroke-width="1.05"/>
<circle cx="382.85" cy="238.4" r="2.6" fill="none" stroke="#222" stroke-width="1.05"/>
<circle cx="382.85" cy="242.8" r="2.6" fill="none" stroke="#222" stroke-width="1.05"/>
<circle cx="382.85" cy="347.7" r="2.6" fill="none" stroke="#222" stroke-width="1.05"/>
<circle cx="382.85" cy="351.98" r="2.6" fill="none" stroke="#222" stroke-width="1.05"/>
<circle cx="382.85" cy="356.26" r="2.6" fill="none" stroke="#222" stroke-width="1.05"/>
<circle cx="382.85" cy="360.54" r="2.6" fill="none" stroke="#222" stroke-width="1.05"/>
<circle cx="382.85" cy="364.82" r="2.6" fill="none" stroke="#222" stroke-width="1.05"/>
<circle cx="382.85" cy="369.1" r="2.6" fill="none" stroke="#222" stroke-width="1.05"/>
<path d="M362.65 184.7V179.4H387.65V184.7" fill="none" stroke="#1a1a1a" stroke-width="1.25"/>
<polygon points="366.05,167.65 366.84,169.41 368.76,169.62 367.33,170.92 367.73,172.81 366.05,171.85 364.37,172.81 364.77,170.92 363.34,169.62 365.26,169.41" fill="#111"/>
<polygon points="372.05,167.65 372.84,169.41 374.76,169.62 373.33,170.92 373.73,172.81 372.05,171.85 370.37,172.81 370.77,170.92 369.34,169.62 371.26,169.41" fill="#111"/>
<polygon points="378.05,167.65 378.84,169.41 380.76,169.62 379.33,170.92 379.73,172.81 378.05,171.85 376.37,172.81 376.77,170.92 375.34,169.62 377.26,169.41" fill="#111"/>
<polygon points="384.05,167.65 384.84,169.41 386.76,169.62 385.33,170.92 385.73,172.81 384.05,171.85 382.37,172.81 382.77,170.92 381.34,169.62 383.26,169.41" fill="#111"/>
<line x1="429.92" y1="175.6" x2="429.92" y2="290.9" stroke="#333" stroke-width="1.3"/>
<line x1="429.92" y1="367.8" x2="429.92" y2="483.2" stroke="#333" stroke-width="1.3"/>
<line x1="425.42" y1="175.6" x2="434.42" y2="175.6" stroke="#222" stroke-width="1.2"/>
<line x1="425.42" y1="483.2" x2="434.42" y2="483.2" stroke="#222" stroke-width="1.2"/>
<rect x="423.22" y="290.9" width="13.4" height="76.9" fill="#DC898E" stroke="#262626" stroke-width="1.1"/>
<line x1="423.22" y1="329.1" x2="436.62" y2="329.1" stroke="#111" stroke-width="1.8"/>
<circle cx="429.92" cy="137.5" r="2.6" fill="none" stroke="#222" stroke-width="1.05"/>
<circle cx="429.92" cy="140.5" r="2.6" fill="none" stroke="#222" stroke-width="1.05"/>
<circle cx="429.92" cy="150.6" r="2.6" fill="none" stroke="#222" stroke-width="1.05"/>
<circle cx="429.92" cy="156.8" r="2.6" fill="none" stroke="#222" stroke-width="1.05"/>
<circle cx="429.92" cy="160.9" r="2.6" fill="none" stroke="#222" stroke-width="1.05"/>
<circle cx="429.92" cy="165" r="2.6" fill="none" stroke="#222" stroke-width="1.05"/>
<circle cx="429.92" cy="169.1" r="2.6" fill="none" stroke="#222" stroke-width="1.05"/>
<circle cx="429.92" cy="173.2" r="2.6" fill="none" stroke="#222" stroke-width="1.05"/>
<circle cx="429.92" cy="485.2" r="2.6" fill="none" stroke="#222" stroke-width="1.05"/>
<circle cx="429.92" cy="489.6" r="2.6" fill="none" stroke="#222" stroke-width="1.05"/>
<circle cx="429.92" cy="494" r="2.6" fill="none" stroke="#222" stroke-width="1.05"/>
<circle cx="429.92" cy="498.4" r="2.6" fill="none" stroke="#222" stroke-width="1.05"/>
<circle cx="429.92" cy="502.8" r="2.6" fill="none" stroke="#222" stroke-width="1.05"/>
<circle cx="429.92" cy="507.2" r="2.6" fill="none" stroke="#222" stroke-width="1.05"/>
<circle cx="429.92" cy="511.6" r="2.6" fill="none" stroke="#222" stroke-width="1.05"/>
<circle cx="429.92" cy="516" r="2.6" fill="none" stroke="#222" stroke-width="1.05"/>
<circle cx="429.92" cy="520.4" r="2.6" fill="none" stroke="#222" stroke-width="1.05"/>
<circle cx="429.92" cy="526.7" r="2.6" fill="none" stroke="#222" stroke-width="1.05"/>
<circle cx="429.92" cy="531" r="2.6" fill="none" stroke="#222" stroke-width="1.05"/>
<circle cx="429.92" cy="536" r="2.6" fill="none" stroke="#222" stroke-width="1.05"/>
<circle cx="429.92" cy="541.8" r="2.6" fill="none" stroke="#222" stroke-width="1.05"/>
<line x1="445.52" y1="180" x2="445.52" y2="296.6" stroke="#333" stroke-width="1.3"/>
<line x1="445.52" y1="375.4" x2="445.52" y2="493.3" stroke="#333" stroke-width="1.3"/>
<line x1="441.02" y1="180" x2="450.02" y2="180" stroke="#222" stroke-width="1.2"/>
<line x1="441.02" y1="493.3" x2="450.02" y2="493.3" stroke="#222" stroke-width="1.2"/>
<rect x="438.92" y="296.6" width="13.2" height="78.8" fill="#9BC3DA" stroke="#262626" stroke-width="1.1"/>
<line x1="438.92" y1="333.7" x2="452.12" y2="333.7" stroke="#111" stroke-width="1.8"/>
<circle cx="445.52" cy="101.6" r="2.6" fill="none" stroke="#222" stroke-width="1.05"/>
<circle cx="445.52" cy="137.5" r="2.6" fill="none" stroke="#222" stroke-width="1.05"/>
<circle cx="445.52" cy="142.28" r="2.6" fill="none" stroke="#222" stroke-width="1.05"/>
<circle cx="445.52" cy="147.05" r="2.6" fill="none" stroke="#222" stroke-width="1.05"/>
<circle cx="445.52" cy="151.82" r="2.6" fill="none" stroke="#222" stroke-width="1.05"/>
<circle cx="445.52" cy="156.6" r="2.6" fill="none" stroke="#222" stroke-width="1.05"/>
<circle cx="445.52" cy="161.38" r="2.6" fill="none" stroke="#222" stroke-width="1.05"/>
<circle cx="445.52" cy="166.15" r="2.6" fill="none" stroke="#222" stroke-width="1.05"/>
<circle cx="445.52" cy="170.92" r="2.6" fill="none" stroke="#222" stroke-width="1.05"/>
<circle cx="445.52" cy="175.7" r="2.6" fill="none" stroke="#222" stroke-width="1.05"/>
<circle cx="445.52" cy="495.3" r="2.6" fill="none" stroke="#222" stroke-width="1.05"/>
<circle cx="445.52" cy="500.09" r="2.6" fill="none" stroke="#222" stroke-width="1.05"/>
<circle cx="445.52" cy="504.88" r="2.6" fill="none" stroke="#222" stroke-width="1.05"/>
<circle cx="445.52" cy="509.67" r="2.6" fill="none" stroke="#222" stroke-width="1.05"/>
<circle cx="445.52" cy="514.46" r="2.6" fill="none" stroke="#222" stroke-width="1.05"/>
<circle cx="445.52" cy="519.25" r="2.6" fill="none" stroke="#222" stroke-width="1.05"/>
<circle cx="445.52" cy="524.05" r="2.6" fill="none" stroke="#222" stroke-width="1.05"/>
<circle cx="445.52" cy="528.84" r="2.6" fill="none" stroke="#222" stroke-width="1.05"/>
<circle cx="445.52" cy="533.63" r="2.6" fill="none" stroke="#222" stroke-width="1.05"/>
<circle cx="445.52" cy="538.42" r="2.6" fill="none" stroke="#222" stroke-width="1.05"/>
<circle cx="445.52" cy="543.21" r="2.6" fill="none" stroke="#222" stroke-width="1.05"/>
<circle cx="445.52" cy="548" r="2.6" fill="none" stroke="#222" stroke-width="1.05"/>
<path d="M425.32 78V72.7H450.32V78" fill="none" stroke="#1a1a1a" stroke-width="1.25"/>
<polygon points="428.72,61.15 429.51,62.91 431.43,63.12 430.00,64.42 430.40,66.31 428.72,65.35 427.04,66.31 427.44,64.42 426.01,63.12 427.93,62.91" fill="#111"/>
<polygon points="434.72,61.15 435.51,62.91 437.43,63.12 436.00,64.42 436.40,66.31 434.72,65.35 433.04,66.31 433.44,64.42 432.01,63.12 433.93,62.91" fill="#111"/>
<polygon points="440.72,61.15 441.51,62.91 443.43,63.12 442.00,64.42 442.40,66.31 440.72,65.35 439.04,66.31 439.44,64.42 438.01,63.12 439.93,62.91" fill="#111"/>
<polygon points="446.72,61.15 447.51,62.91 449.43,63.12 448.00,64.42 448.40,66.31 446.72,65.35 445.04,66.31 445.44,64.42 444.01,63.12 445.93,62.91" fill="#111"/>
<line x1="492.59" y1="216.5" x2="492.59" y2="287.1" stroke="#333" stroke-width="1.3"/>
<line x1="492.59" y1="334.4" x2="492.59" y2="406.8" stroke="#333" stroke-width="1.3"/>
<line x1="488.09" y1="216.5" x2="497.09" y2="216.5" stroke="#222" stroke-width="1.2"/>
<line x1="488.09" y1="406.8" x2="497.09" y2="406.8" stroke="#222" stroke-width="1.2"/>
<rect x="485.89" y="287.1" width="13.4" height="47.3" fill="#DC898E" stroke="#262626" stroke-width="1.1"/>
<line x1="485.89" y1="311.8" x2="499.29" y2="311.8" stroke="#111" stroke-width="1.8"/>
<circle cx="492.59" cy="171.9" r="2.6" fill="none" stroke="#222" stroke-width="1.05"/>
<circle cx="492.59" cy="176.71" r="2.6" fill="none" stroke="#222" stroke-width="1.05"/>
<circle cx="492.59" cy="181.52" r="2.6" fill="none" stroke="#222" stroke-width="1.05"/>
<circle cx="492.59" cy="186.33" r="2.6" fill="none" stroke="#222" stroke-width="1.05"/>
<circle cx="492.59" cy="191.14" r="2.6" fill="none" stroke="#222" stroke-width="1.05"/>
<circle cx="492.59" cy="195.96" r="2.6" fill="none" stroke="#222" stroke-width="1.05"/>
<circle cx="492.59" cy="200.77" r="2.6" fill="none" stroke="#222" stroke-width="1.05"/>
<circle cx="492.59" cy="205.58" r="2.6" fill="none" stroke="#222" stroke-width="1.05"/>
<circle cx="492.59" cy="210.39" r="2.6" fill="none" stroke="#222" stroke-width="1.05"/>
<circle cx="492.59" cy="215.2" r="2.6" fill="none" stroke="#222" stroke-width="1.05"/>
<circle cx="492.59" cy="408" r="2.6" fill="none" stroke="#222" stroke-width="1.05"/>
<circle cx="492.59" cy="412.49" r="2.6" fill="none" stroke="#222" stroke-width="1.05"/>
<circle cx="492.59" cy="416.97" r="2.6" fill="none" stroke="#222" stroke-width="1.05"/>
<circle cx="492.59" cy="421.46" r="2.6" fill="none" stroke="#222" stroke-width="1.05"/>
<circle cx="492.59" cy="425.94" r="2.6" fill="none" stroke="#222" stroke-width="1.05"/>
<circle cx="492.59" cy="430.43" r="2.6" fill="none" stroke="#222" stroke-width="1.05"/>
<circle cx="492.59" cy="434.91" r="2.6" fill="none" stroke="#222" stroke-width="1.05"/>
<circle cx="492.59" cy="439.4" r="2.6" fill="none" stroke="#222" stroke-width="1.05"/>
<circle cx="492.59" cy="448.2" r="2.6" fill="none" stroke="#222" stroke-width="1.05"/>
<line x1="508.19" y1="208.9" x2="508.19" y2="279.5" stroke="#333" stroke-width="1.3"/>
<line x1="508.19" y1="326.9" x2="508.19" y2="398" stroke="#333" stroke-width="1.3"/>
<line x1="503.69" y1="208.9" x2="512.69" y2="208.9" stroke="#222" stroke-width="1.2"/>
<line x1="503.69" y1="398" x2="512.69" y2="398" stroke="#222" stroke-width="1.2"/>
<rect x="501.59" y="279.5" width="13.2" height="47.4" fill="#9BC3DA" stroke="#262626" stroke-width="1.1"/>
<line x1="501.59" y1="303.9" x2="514.79" y2="303.9" stroke="#111" stroke-width="1.8"/>
<circle cx="508.19" cy="159.3" r="2.6" fill="none" stroke="#222" stroke-width="1.05"/>
<circle cx="508.19" cy="163.7" r="2.6" fill="none" stroke="#222" stroke-width="1.05"/>
<circle cx="508.19" cy="168.1" r="2.6" fill="none" stroke="#222" stroke-width="1.05"/>
<circle cx="508.19" cy="172.5" r="2.6" fill="none" stroke="#222" stroke-width="1.05"/>
<circle cx="508.19" cy="176.9" r="2.6" fill="none" stroke="#222" stroke-width="1.05"/>
<circle cx="508.19" cy="181.3" r="2.6" fill="none" stroke="#222" stroke-width="1.05"/>
<circle cx="508.19" cy="185.7" r="2.6" fill="none" stroke="#222" stroke-width="1.05"/>
<circle cx="508.19" cy="190.1" r="2.6" fill="none" stroke="#222" stroke-width="1.05"/>
<circle cx="508.19" cy="194.5" r="2.6" fill="none" stroke="#222" stroke-width="1.05"/>
<circle cx="508.19" cy="198.9" r="2.6" fill="none" stroke="#222" stroke-width="1.05"/>
<circle cx="508.19" cy="203.3" r="2.6" fill="none" stroke="#222" stroke-width="1.05"/>
<circle cx="508.19" cy="207.7" r="2.6" fill="none" stroke="#222" stroke-width="1.05"/>
<circle cx="508.19" cy="399.2" r="2.6" fill="none" stroke="#222" stroke-width="1.05"/>
<circle cx="508.19" cy="403.88" r="2.6" fill="none" stroke="#222" stroke-width="1.05"/>
<circle cx="508.19" cy="408.56" r="2.6" fill="none" stroke="#222" stroke-width="1.05"/>
<circle cx="508.19" cy="413.24" r="2.6" fill="none" stroke="#222" stroke-width="1.05"/>
<circle cx="508.19" cy="417.92" r="2.6" fill="none" stroke="#222" stroke-width="1.05"/>
<circle cx="508.19" cy="422.6" r="2.6" fill="none" stroke="#222" stroke-width="1.05"/>
<circle cx="508.19" cy="435.7" r="2.6" fill="none" stroke="#222" stroke-width="1.05"/>
<path d="M487.99 135.8V130.5H512.99V135.8" fill="none" stroke="#1a1a1a" stroke-width="1.25"/>
<polygon points="491.39,118.75 492.18,120.51 494.10,120.72 492.67,122.02 493.07,123.91 491.39,122.95 489.71,123.91 490.11,122.02 488.68,120.72 490.60,120.51" fill="#111"/>
<polygon points="497.39,118.75 498.18,120.51 500.10,120.72 498.67,122.02 499.07,123.91 497.39,122.95 495.71,123.91 496.11,122.02 494.68,120.72 496.60,120.51" fill="#111"/>
<polygon points="503.39,118.75 504.18,120.51 506.10,120.72 504.67,122.02 505.07,123.91 503.39,122.95 501.71,123.91 502.11,122.02 500.68,120.72 502.60,120.51" fill="#111"/>
<polygon points="509.39,118.75 510.18,120.51 512.10,120.72 510.67,122.02 511.07,123.91 509.39,122.95 507.71,123.91 508.11,122.02 506.68,120.72 508.60,120.51" fill="#111"/>
<path d="M24 580.5V2.5" stroke="#1a1a1a" stroke-width="2" fill="none"/>
<path d="M18.6 10.6L24 2L29.6 10.6" stroke="#1a1a1a" stroke-width="1.8" fill="none"/>
<path d="M23 580H537.5" stroke="#1a1a1a" stroke-width="2" fill="none"/>
<path d="M529.6 575.1L538.2 580L529.6 585.1" stroke="#1a1a1a" stroke-width="1.8" fill="none"/>
<line x1="572.4" y1="12.2" x2="572.4" y2="30.6" stroke="#333" stroke-width="1.2"/>
<rect x="563.3" y="14.9" width="18.1" height="12.9" fill="#DC898E" stroke="#262626" stroke-width="1.1"/>
<line x1="563.3" y1="21.3" x2="581.4" y2="21.3" stroke="#111" stroke-width="1.5"/>
<text x="592.6" y="25.9" class="lg">Baseline</text>
<line x1="572.4" y1="35.9" x2="572.4" y2="54.7" stroke="#333" stroke-width="1.2"/>
<rect x="563.3" y="39.2" width="18.1" height="12.3" fill="#9BC3DA" stroke="#262626" stroke-width="1.1"/>
<line x1="563.3" y1="45.4" x2="581.4" y2="45.4" stroke="#111" stroke-width="1.5"/>
<text x="592" y="50.2" class="lg" letter-spacing="0.12">2-Year Follow-up</text>
</svg>
</body></html>
